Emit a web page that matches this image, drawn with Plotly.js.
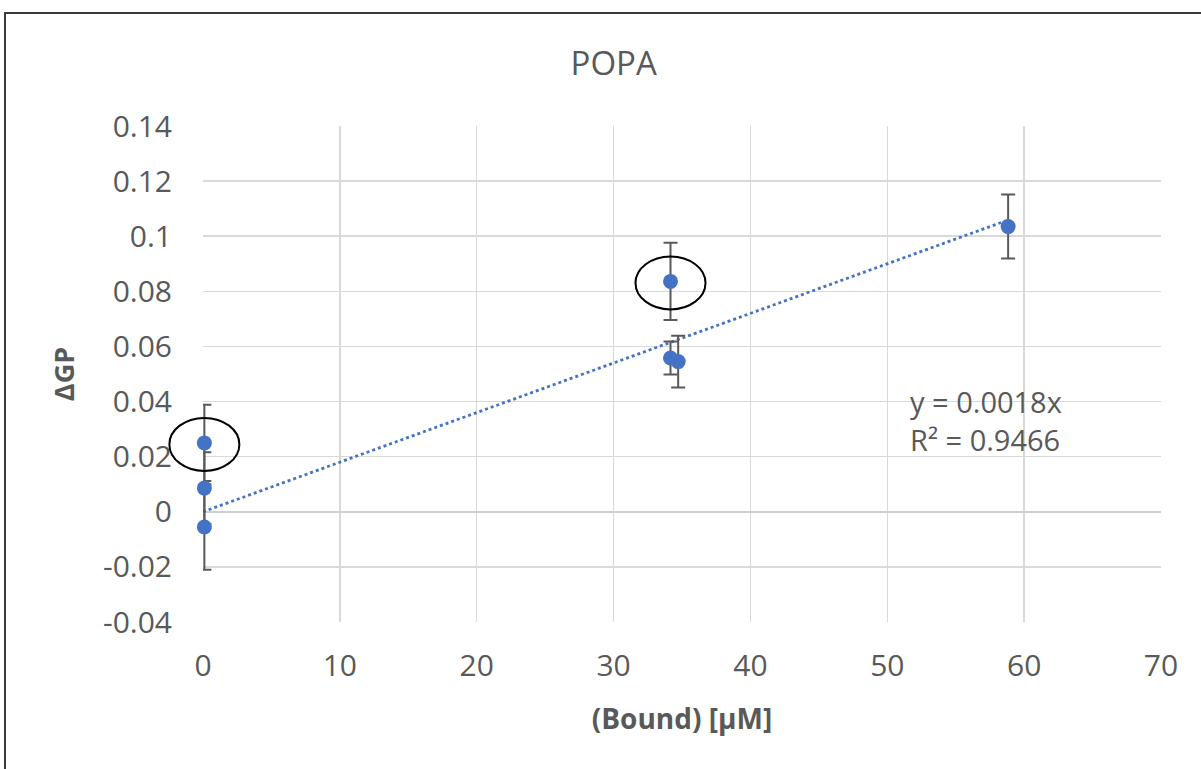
<!DOCTYPE html>
<html><head><meta charset="utf-8">
<script src="https://cdn.plot.ly/plotly-3.0.1.min.js"></script>
<style>
html,body{margin:0;padding:0;background:#fff;}
#frame{position:absolute;left:4px;top:12px;width:1210px;height:770px;border-left:2px solid #3a3a3a;border-top:2px solid #3a3a3a;}
#chart{position:absolute;left:0;top:0;width:1201px;height:769px;}
</style></head>
<body>
<div id="frame"></div>
<div id="chart"></div>
<script>
// Data
const boundX = [0.1, 0.1, 0.1, 34.16, 34.16, 34.72, 58.83];
const deltaGP = [0.025, 0.0086, -0.0055, 0.0836, 0.0558, 0.0545, 0.1035];
const errGP = [0.0138, 0.013, 0.0155, 0.014, 0.006, 0.0094, 0.0116];
const highlighted = [0, 3]; // indices of circled points
const slope = 0.0018;
const eqText = "y = 0.0018x";
const r2Text = "R² = 0.9466";
const xTicks = [0, 10, 20, 30, 40, 50, 60, 70];
const yTicks = [-0.04, -0.02, 0, 0.02, 0.04, 0.06, 0.08, 0.1, 0.12, 0.14];
const yTickText = ["-0.04", "-0.02", "0", "0.02", "0.04", "0.06", "0.08", "0.1", "0.12", "0.14"];

const FONT = "'Open Sans', sans-serif";
const GREY = "#595959";
const BLUE = "#4472c4";
const XR = [0, 70], YR = [-0.04, 0.14];

const xmax = Math.max(...boundX);
const trend = {
  x: [0, xmax], y: [0, slope * xmax],
  mode: "lines", line: {color: BLUE, width: 2.8, dash: "dot"},
  hoverinfo: "skip", showlegend: false, cliponaxis: false
};
const pts = {
  x: boundX, y: deltaGP, mode: "markers", type: "scatter",
  marker: {color: BLUE, size: 15},
  error_y: {type: "data", array: errGP, visible: true, color: GREY, thickness: 2, width: 7},
  showlegend: false, cliponaxis: false
};

// ellipses around highlighted points (paper refs so they are not clipped at the axis)
const shapes = highlighted.map(i => ({
  type: "circle", xref: "paper", yref: "paper",
  xsizemode: "pixel", ysizemode: "pixel",
  xanchor: (boundX[i] - XR[0]) / (XR[1] - XR[0]),
  yanchor: (deltaGP[i] - YR[0]) / (YR[1] - YR[0]),
  x0: -35, x1: 35, y0: -28, y1: 25,
  line: {color: "#000", width: 2}
}));

const layout = {
  width: 1201, height: 769,
  margin: {l: 203, r: 40, t: 126, b: 147},
  paper_bgcolor: "rgba(0,0,0,0)", plot_bgcolor: "#fff",
  font: {family: FONT, color: GREY, size: 29},
  title: {text: "POPA", x: 0.511, xanchor: "center", y: 0.917, yanchor: "middle",
          font: {family: FONT, size: 33, color: GREY}},
  xaxis: {
    range: XR, tickvals: xTicks, ticktext: xTicks.map(String),
    showgrid: true, gridcolor: "#d9d9d9", gridwidth: 1.5,
    zeroline: false, showline: false, ticks: "",
    tickfont: {size: 30, color: GREY}, ticklabelstandoff: 23,
    title: {text: "<b>(Bound) [µM]</b>", font: {size: 28, color: GREY}, standoff: 25}
  },
  yaxis: {
    range: YR, tickvals: yTicks, ticktext: yTickText,
    showgrid: true, gridcolor: "#d9d9d9", gridwidth: 1.5,
    zeroline: true, zerolinecolor: "#d0d0d0", zerolinewidth: 1.5,
    showline: false, ticks: "",
    tickfont: {size: 30, color: GREY}, ticklabelstandoff: 30,
    title: {text: "<b>ΔGP</b>", font: {size: 27, color: GREY}, standoff: 20}
  },
  shapes: shapes,
  annotations: [
    {text: eqText + "<br>" + r2Text, xref: "x", yref: "y", x: 51.5, y: 0.033,
     xanchor: "left", yanchor: "middle", align: "left", showarrow: false,
     font: {size: 29, color: GREY}}
  ]
};

Plotly.newPlot("chart", [trend, pts], layout, {displayModeBar: false, staticPlot: true});
</script>
</body></html>
